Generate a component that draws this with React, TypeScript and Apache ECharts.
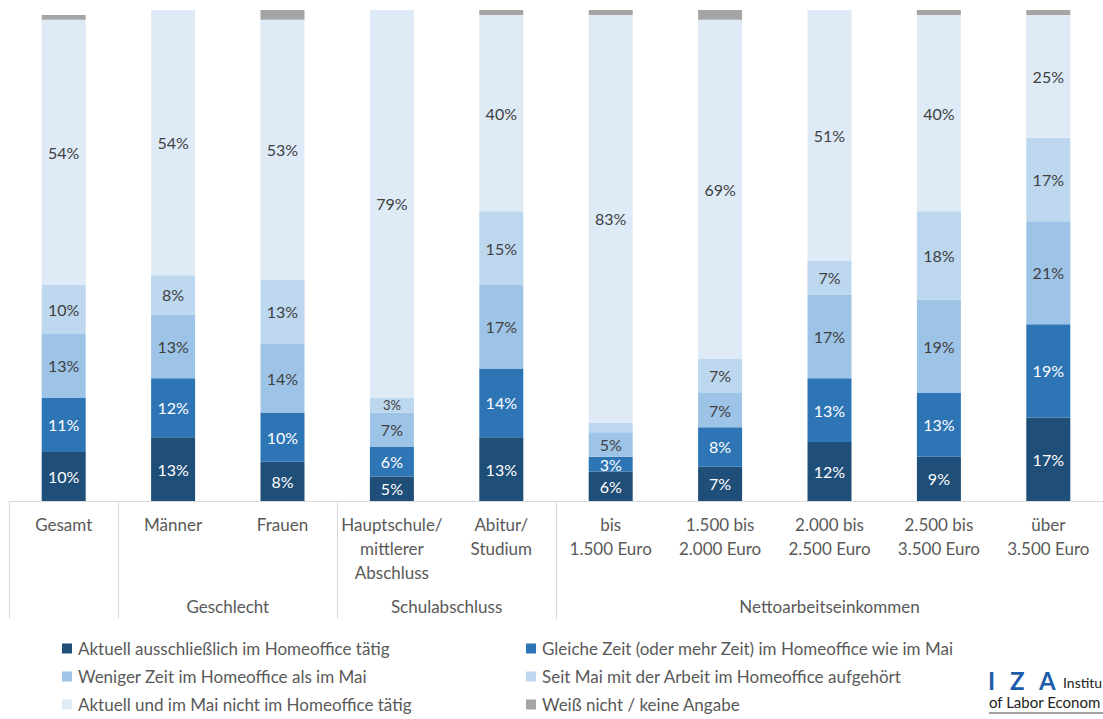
import React, { useEffect, useRef } from "react";
import * as echarts from "echarts";

const categories = [
  "Gesamt",
  "Männer",
  "Frauen",
  "Hauptschule/\nmittlerer\nAbschluss",
  "Abitur/\nStudium",
  "bis\n1.500 Euro",
  "1.500 bis\n2.000 Euro",
  "2.000 bis\n2.500 Euro",
  "2.500 bis\n3.500 Euro",
  "über\n3.500 Euro",
];

const groups = [
  { name: "Geschlecht", from: 1, to: 2 },
  { name: "Schulabschluss", from: 3, to: 4 },
  { name: "Nettoarbeitseinkommen", from: 5, to: 9 },
];
const separatorIndexes = [0, 1, 3, 5];

const seriesNames = [
  "Aktuell ausschließlich im Homeoffice tätig",
  "Gleiche Zeit (oder mehr Zeit) im Homeoffice wie im Mai",
  "Weniger Zeit im Homeoffice als im Mai",
  "Seit Mai mit der Arbeit im Homeoffice aufgehört",
  "Aktuell und im Mai nicht im Homeoffice tätig",
  "Weiß nicht / keine Angabe",
];

const aktuellAusschliesslich = [10, 13, 8, 5, 13, 6, 7, 12, 9, 17];
const gleicheZeit = [11, 12, 10, 6, 14, 3, 8, 13, 13, 19];
const wenigerZeit = [13, 13, 14, 7, 17, 5, 7, 17, 19, 21];
const seitMaiAufgehoert = [10, 8, 13, 3, 15, 2, 7, 7, 18, 17];
const nichtImHomeoffice = [54, 54, 53, 79, 40, 83, 69, 51, 40, 25];
const weissNicht = [1, 0, 2, 0, 1, 1, 2, 0, 1, 1];

const seriesValues = [
  aktuellAusschliesslich,
  gleicheZeit,
  wenigerZeit,
  seitMaiAufgehoert,
  nichtImHomeoffice,
  weissNicht,
];

const colors = ["#1F4E79", "#2E75B6", "#9DC3E6", "#BDD7EE", "#DEEBF7", "#A5A5A5"];
const labelColors = ["#FFFFFF", "#FFFFFF", "#404040", "#404040", "#404040", "#404040"];

const FONT = "Lato, 'Noto Sans', sans-serif";
const TEXT = "#595959";

export default function App() {
  const ref = useRef<HTMLDivElement>(null);

  useEffect(() => {
    if (!ref.current) return;
    const chart = echarts.init(ref.current, undefined, { renderer: "svg" });

    const series = seriesValues.map((vals, si) => ({
      name: seriesNames[si],
      type: "bar",
      stack: "total",
      barWidth: 44,
      itemStyle: { color: colors[si] },
      label: {
        show: si !== 5,
        position: "inside",
        color: labelColors[si],
        fontFamily: FONT,
        fontSize: 16,
        formatter: (p: any) => p.value + "%",
      },
      emphasis: { disabled: true },
      data: vals.map((v) => {
        if (si === 3 && v <= 2) return { value: v, label: { show: false } };
        if (si === 3 && v === 3) return { value: v, label: { fontSize: 13 } };
        return v;
      }),
    }));

    const legendCommon = {
      orient: "vertical",
      top: 640,
      padding: 0,
      itemWidth: 10,
      itemHeight: 10,
      itemGap: 11,
      icon: "rect",
      selectedMode: false,
      textStyle: { color: TEXT, fontFamily: FONT, fontSize: 17, padding: [0, 0, 0, 1] },
    };

    chart.setOption({
      animation: false,
      grid: { left: 9, top: 10, width: 1100, height: 491, containLabel: false },
      xAxis: {
        type: "category",
        data: categories,
        axisLine: { lineStyle: { color: "#D9D9D9", width: 1 } },
        axisTick: {
          show: true,
          length: 118,
          interval: (i: number) => separatorIndexes.includes(i),
          lineStyle: { color: "#D9D9D9", width: 1 },
        },
        axisLabel: {
          interval: 0,
          color: TEXT,
          fontFamily: FONT,
          fontSize: 17,
          lineHeight: 24,
          margin: 11,
        },
      },
      yAxis: {
        type: "value",
        min: 0,
        max: 100,
        show: false,
        splitLine: { show: false },
      },
      legend: [
        { ...legendCommon, left: 62, data: [seriesNames[0], seriesNames[2], seriesNames[4]] },
        { ...legendCommon, left: 526, data: [seriesNames[1], seriesNames[3], seriesNames[5]] },
      ],
      series,
    });

    const groupTexts = groups.map((g) => {
      const a = chart.convertToPixel({ xAxisIndex: 0 }, g.from) as number;
      const b = chart.convertToPixel({ xAxisIndex: 0 }, g.to) as number;
      return {
        type: "text",
        x: (a + b) / 2,
        y: 606,
        style: {
          text: g.name,
          fill: TEXT,
          font: `17px ${FONT}`,
          textAlign: "center",
          textVerticalAlign: "middle",
        },
      };
    });

    chart.setOption({
      graphic: [
        ...groupTexts,
        { type: "text", x: 988, y: 680, style: { text: "I", fill: "#1C5CAB", font: `bold 24px ${FONT}`, textVerticalAlign: "middle" } },
        { type: "text", x: 1010, y: 680, style: { text: "Z", fill: "#1C5CAB", font: `bold 24px ${FONT}`, textVerticalAlign: "middle" } },
        { type: "text", x: 1039, y: 680, style: { text: "A", fill: "#1C5CAB", font: `bold 24px ${FONT}`, textVerticalAlign: "middle" } },
        { type: "text", x: 1063, y: 682, style: { text: "Institu", fill: "#222222", font: `14px ${FONT}`, textVerticalAlign: "middle" } },
        { type: "text", x: 989, y: 702, style: { text: "of Labor Econom", fill: "#222222", font: `15px ${FONT}`, textVerticalAlign: "middle" } },
        { type: "line", shape: { x1: 989, y1: 713, x2: 1103, y2: 713 }, style: { stroke: "#444444", lineWidth: 1 } },
      ],
    });

    return () => chart.dispose();
  }, []);

  return (
    <div
      ref={ref}
      style={{ position: "absolute", left: 0, top: 0, width: 1103, height: 719 }}
    />
  );
}
